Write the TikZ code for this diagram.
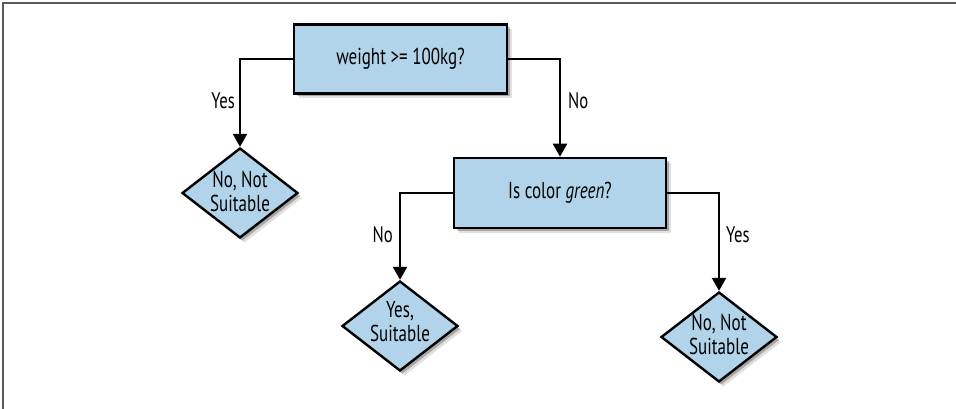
\documentclass[tikz,border=0pt]{standalone}
\usepackage{fontspec}
\setmainfont{PT Sans}[FakeStretch=0.74]
\usetikzlibrary{shapes.geometric,arrows.meta,shadows}
\definecolor{boxblue}{RGB}{178,212,234}
\definecolor{framegray}{RGB}{90,90,90}
\tikzset{
  softshadow/.style={
    drop shadow={shadow xshift=4.5pt,shadow yshift=-5pt,opacity=.12,fill=black},
    drop shadow={shadow xshift=2.5pt,shadow yshift=-3pt,opacity=.25,fill=black}},
  qbox/.style={rectangle,draw=black,line width=2.6pt,fill=boxblue,softshadow,
    minimum width=213pt,minimum height=69pt,inner sep=0pt},
  leaf/.style={diamond,draw=black,line width=2.4pt,fill=boxblue,softshadow,
    minimum width=116pt,minimum height=90pt,inner sep=0pt},
  leaftext/.style={align=center,inner sep=0pt,font=\fontsize{23}{24}\selectfont},
  qtext/.style={font=\fontsize{23}{26}\selectfont},
  conn/.style={line width=2.5pt,-{Triangle[width=14pt,length=13pt]}},
  lbl/.style={font=\fontsize{22.5}{26}\selectfont,inner sep=0pt},
}
\begin{document}
\begin{tikzpicture}[x=1pt,y=-1pt]
\useasboundingbox (0,0) rectangle (956,409);
\draw[framegray,line width=1.6pt] (3,409) -- (3,3) -- (956,3);
% question boxes
\node[qbox,qtext] (q1) at (400.5,59) {weight >= 100kg?};
\node[qbox,qtext,minimum width=212pt,minimum height=70pt] (q2) at (560,193) {Is color \textit{green}?};
% leaves
\node[leaf] (l1) at (240,193) {};
\node[leaftext] (t1) at ([yshift=2pt]l1.center) {No, Not\\Suitable};
\node[leaf] (l2) at (400,326) {};
\node[leaftext] (t2) at ([yshift=4pt]l2.center) {Yes,\\Suitable};
\node[leaf] (l3) at (719,337) {};
\node[leaftext] (t3) at ([yshift=3pt]l3.center) {No, Not\\Suitable};
% connectors
\draw[conn] (q1.west) -| (l1.north);
\draw[conn] (q1.east) -| (q2.north);
\draw[conn] (q2.west) -| (l2.north);
\draw[conn] (q2.east) -| (l3.north);
% labels
\node[lbl,anchor=east] (y1) at (235,101) {Yes};
\node[lbl,anchor=west] (n1) at (568,101) {No};
\node[lbl,anchor=east] (n2) at (393,235) {No};
\node[lbl,anchor=west] (y2) at (726,235) {Yes};
\end{tikzpicture}
\end{document}
